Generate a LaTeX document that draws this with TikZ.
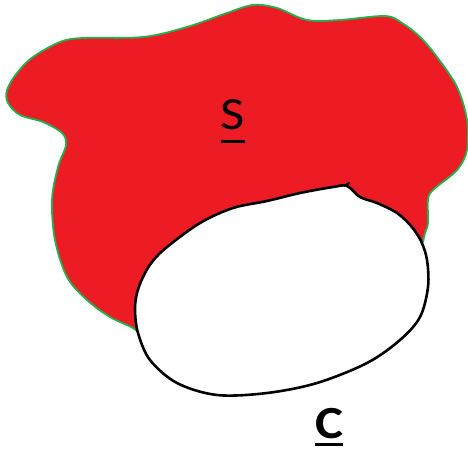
\documentclass[tikz,border=0pt]{standalone}
\usepackage{fontspec}
\setmainfont{Carlito}
\newfontfamily\etiqfont[FakeStretch=1.15]{Carlito}
\definecolor{rojo}{HTML}{ED1C24}
\definecolor{verde}{HTML}{22B14C}
% underlined label: text, rule depth, rule thickness
\newcommand{\ulbl}[3]{\setbox0=\hbox{#1}\leavevmode\rlap{\copy0}\rule[-#2]{\wd0}{#3}}
\begin{document}
\begin{tikzpicture}[x=1pt, y=-1pt,
    mancha/.style={fill=rojo, draw=none},
    borde/.style={draw=verde, line width=1.8pt, line cap=round},
    ovalo/.style={fill=white, draw=black, line width=2.6pt, line join=round},
    etiq/.style={inner sep=0pt, anchor=base, font=\etiqfont\fontsize{46}{48}\selectfont}]
        \useasboundingbox (0,0) rectangle (468,452);
        % region S (red blob)
        \fill[mancha] plot[smooth, tension=0.55] coordinates {
            (141,336) (133,328) (110,317) (87,300) (67,277) (55,240) (52,200)
            (58,167) (66,145) (62,133) (43,122) (20,115) (8,103) (7,90) (17,73)
            (33,57) (60,42) (83,38) (143,37) (187,27) (227,13) (253,5) (277,8)
            (307,20) (340,20) (385,16) (402,23) (420,37) (437,57) (457,87)
            (467,120) (467,150) (457,170) (433,190) (428,200) (428,223) (425,233) (423,242)}
            -- (300,300) -- cycle;
        \draw[borde] plot[smooth, tension=0.55] coordinates {
            (141,336) (133,328) (110,317) (87,300) (67,277) (55,240) (52,200)
            (58,167) (66,145) (62,133) (43,122) (20,115) (8,103) (7,90) (17,73)
            (33,57) (60,42) (83,38) (143,37) (187,27) (227,13) (253,5) (277,8)
            (307,20) (340,20) (385,16) (402,23) (420,37) (437,57) (457,87)
            (467,120) (467,150) (457,170) (433,190) (428,200) (428,223) (425,233) (423,242)};
        % region C (white oval)
        \filldraw[ovalo] plot[smooth cycle, tension=0.55] coordinates {
            (347,186) (360,197) (377,203) (397,213) (411,226) (421,241) (427,260)
            (428,287) (420,317) (400,340) (367,363) (317,383) (267,393) (217,395)
            (177,383) (150,360) (138,333) (135,310) (137,293) (143,277) (152,262)
            (167,247) (200,223) (233,208) (267,201) (300,193) (333,187)};
        \coordinate (pico) at (345,186);
        \coordinate (pico2) at (349,183);
        \draw[black, line width=2.2pt, line cap=round] (pico) -- (pico2);
        % labels
        \node[etiq] (s) at (233,129) {\ulbl{S}{14pt}{2.8pt}};
        \node[etiq, font=\etiqfont\fontsize{46}{48}\selectfont\bfseries] (c) at (329,438) {\ulbl{C}{8pt}{3pt}};
    \end{tikzpicture}
\end{document}
